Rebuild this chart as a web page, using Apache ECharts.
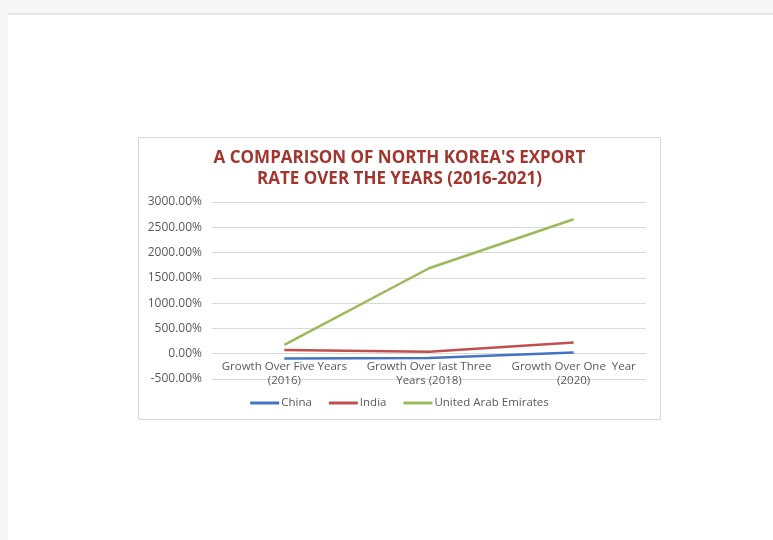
<!DOCTYPE html>
<html><head><meta charset="utf-8">
<script src="https://cdn.jsdelivr.net/npm/echarts@6/dist/echarts.min.js"></script>
<style>
html,body{margin:0;padding:0;width:773px;height:540px;overflow:hidden;background:#f6f6f6;}
#page{position:absolute;left:8px;top:13px;width:765px;height:527px;background:#fff;border-top:2px solid #e6e6e6;box-sizing:border-box;}
#chart{position:absolute;left:138px;top:137px;width:523px;height:283px;border:1px solid #d9d9d9;box-sizing:border-box;background:#fff;}
</style></head>
<body>
<div id="page"></div>
<div id="chart"></div>
<script>
const categories = ["Growth Over Five Years\n(2016)", "Growth Over last Three\nYears (2018)", "Growth Over One  Year\n(2020)"];
const seriesNames = ["China", "India", "United Arab Emirates"];
const china = [-95, -85, 25];
const india = [75, 40, 220];
const uae = [175, 1690, 2660];
const yMin = -500, yMax = 3000, yStep = 500;
const colors = ["#4472C4", "#C0504D", "#9BBB59"];

const chart = echarts.init(document.getElementById('chart'));
const gridTop = 64, gridBottom = 40;
const plotH = 283 - 2 - gridTop - gridBottom;
// distance from bottom of plot (yMin) to zero line, in pixels
const zeroOffset = plotH * (0 - yMin) / (yMax - yMin);
const mk = (name, data, c) => ({
  name, type: 'line', data, symbol: 'none', smooth: false,
  lineStyle: {color: c, width: 2.5}, itemStyle: {color: c}
});
chart.setOption({
  animation: false,
  title: {
    text: "A COMPARISON OF NORTH KOREA'S EXPORT\nRATE OVER THE YEARS (2016-2021)",
    left: 'center', top: 5,
    textStyle: {fontFamily: 'Open Sans', fontWeight: 'bold', fontSize: 17, color: '#A2362F', lineHeight: 21}
  },
  grid: {left: 73, right: 14, top: gridTop, bottom: gridBottom, containLabel: false},
  legend: {
    bottom: 5, left: 'center', icon: 'rect', itemWidth: 29, itemHeight: 3, itemGap: 17,
    textStyle: {fontFamily: 'Open Sans', fontSize: 11.5, color: '#595959', padding: [0, 0, 0, -3]},
    data: seriesNames
  },
  xAxis: {
    type: 'category', data: categories, boundaryGap: true,
    offset: -zeroOffset,
    axisLine: {onZero: false, lineStyle: {color: '#d9d9d9'}},
    axisTick: {show: false},
    axisLabel: {fontFamily: 'Open Sans', fontSize: 11.5, color: '#595959', lineHeight: 14, margin: 6, interval: 0}
  },
  yAxis: {
    type: 'value', min: yMin, max: yMax, interval: yStep,
    axisLine: {show: false}, axisTick: {show: false},
    splitLine: {lineStyle: {color: '#d9d9d9'}},
    axisLabel: {fontFamily: 'Open Sans', fontSize: 12, color: '#595959', margin: 10,
      formatter: v => v.toFixed(2) + '%'}
  },
  series: [mk(seriesNames[0], china, colors[0]), mk(seriesNames[1], india, colors[1]), mk(seriesNames[2], uae, colors[2])]
});
</script>
</body></html>
